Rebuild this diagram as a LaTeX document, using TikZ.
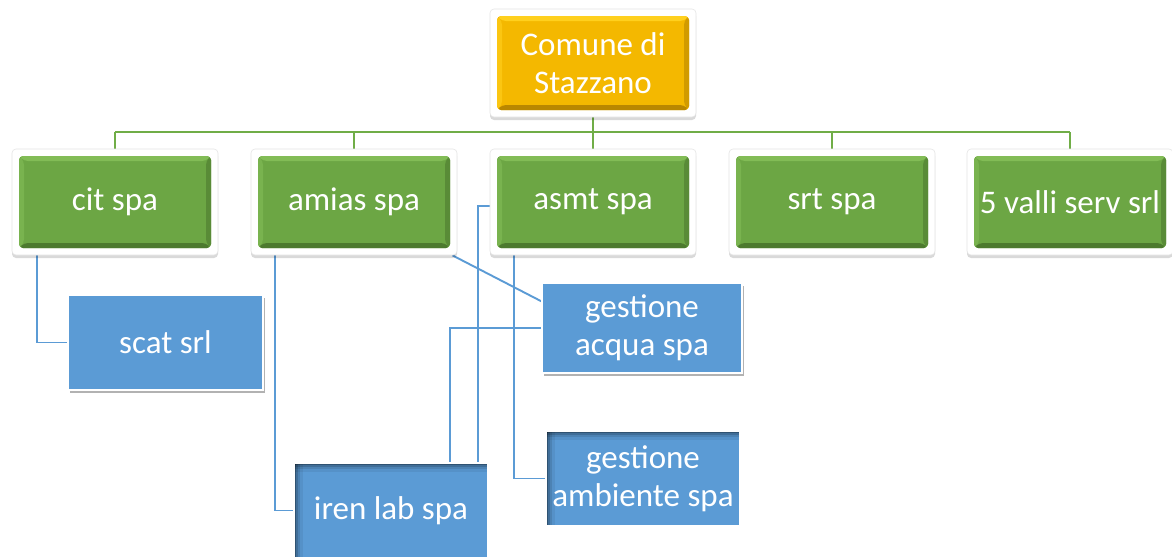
\documentclass[tikz,border=0pt]{standalone}
\usepackage{fontspec}
\setmainfont{Carlito}
\usetikzlibrary{shadows,backgrounds,calc}
\definecolor{gold}{RGB}{244,184,0}
\definecolor{goldlight}{RGB}{255,208,30}
\definecolor{golddark}{RGB}{185,135,0}
\definecolor{grn}{RGB}{108,166,68}
\definecolor{grnlight}{RGB}{130,188,86}
\definecolor{grndark}{RGB}{76,122,46}
\definecolor{blu}{RGB}{91,155,213}
\definecolor{busgreen}{RGB}{112,173,71}
\definecolor{linkblue}{RGB}{91,155,213}
\newcommand\lbl{\fontsize{33}{38}\selectfont}
\newcommand\bevelbox[3]{%
  \coordinate (bA) at ([shift={(7pt,7pt)}]path picture bounding box.south west);
  \coordinate (bC) at ([shift={(-7pt,-7pt)}]path picture bounding box.north east);
  \coordinate (bB) at (bC |- bA);
  \coordinate (bD) at (bA |- bC);
  \fill[#1] (bA) rectangle (bC);
  \fill[#2] (bD) -- (bC) -- ([shift={(-5pt,-5pt)}]bC) -- ([shift={(5pt,-5pt)}]bD) -- cycle;
  \fill[#2!60!#1] (bD) -- ([shift={(5pt,-5pt)}]bD) -- ([shift={(5pt,5pt)}]bA) -- (bA) -- cycle;
  \fill[#3] (bA) -- (bB) -- ([shift={(-5pt,5pt)}]bB) -- ([shift={(5pt,5pt)}]bA) -- cycle;
  \fill[#3!60!#1] (bB) -- (bC) -- ([shift={(-5pt,-5pt)}]bC) -- ([shift={(-5pt,5pt)}]bB) -- cycle;
}
\newcommand\innershadow{%
  \foreach \w/\o in {9/0.06,6/0.10,3.5/0.15,1.5/0.25}{%
    \fill[black,opacity=\o] (path picture bounding box.north west) rectangle ([yshift=-\w pt]path picture bounding box.north east);
    \fill[black,opacity=\o] (path picture bounding box.north west) rectangle ([xshift=\w pt]path picture bounding box.south west);
  }}
\begin{document}
\begin{tikzpicture}[x=1pt,y=-1pt,
  frame/.style={rectangle, rounded corners=4pt, fill=white, draw=black!10, line width=0.6pt, inner sep=0pt,
    minimum width=206pt, minimum height=106pt, text=white, font=\lbl, align=center,
    drop shadow={shadow xshift=0pt, shadow yshift=-3pt, opacity=0.15, fill=black}},
  goldbox/.style={frame, minimum height=108pt, path picture={\bevelbox{gold}{goldlight}{golddark}}},
  greenbox/.style={frame, path picture={\bevelbox{grn}{grnlight}{grndark}}},
  bluebox/.style={rectangle, fill=blu, draw=white, line width=1.5pt, inner sep=0pt,
    text=white, font=\lbl, align=center},
  outshadow/.style={drop shadow={shadow xshift=2pt, shadow yshift=-3pt, opacity=0.3, fill=black}},
  inshadow/.style={path picture={\innershadow}},
  busline/.style={draw=busgreen, line width=2.6pt},
  link/.style={draw=linkblue, line width=1.9pt}]
\useasboundingbox (0,0) rectangle (1172,557);

\node[goldbox] (top) at (593,63) {Comune di\\Stazzano};
\node[greenbox] (cit) at (115,202) {cit spa};
\node[greenbox] (amias) at (354,202) {amias spa};
\node[greenbox] (asmt) at (593,202) {asmt spa};
\node[greenbox] (srt) at (832,202) {srt spa};
\node[greenbox] (five) at (1070,202) {5 valli serv srl};

\node[bluebox, outshadow, minimum width=195pt, minimum height=95pt] (scat) at (165.5,342.5) {scat srl};
\node[bluebox, outshadow, minimum width=200pt, minimum height=90pt] (acqua) at (642,328) {gestione\\acqua spa};
\node[bluebox, inshadow, minimum width=194pt, minimum height=95pt] (ambiente) at (643,478.5) {gestione\\ambiente spa};
\node[bluebox, inshadow, minimum width=194pt, minimum height=95pt] (iren) at (391,510.5) {iren lab spa};

\begin{scope}[on background layer]
\fill[white] (0,0) rectangle (1172,557);
\coordinate (bus) at (593,132);
\draw[busline] (top.south) -- (bus);
\draw[busline] (bus -| cit.north) -- (bus -| five.north);
\foreach \n in {cit,amias,asmt,srt,five} \draw[busline] (bus -| \n.north) -- (\n.north);

\draw[link] ([xshift=25pt]cit.south west) |- (scat.west);
\draw[link] ([xshift=24pt]amias.south west) |- (iren.west);
\draw[link] ([xshift=-5pt]amias.south east) -- ([yshift=-19pt]acqua.north west);
\draw[link] ([xshift=24pt]asmt.south west) |- (acqua.west);
\draw[link] ([xshift=24pt]asmt.south west) |- (ambiente.west);
\draw[link] ([yshift=-4pt]asmt.west) -| ([xshift=-11pt]iren.north east);
\draw[link] (acqua.west) -| ([xshift=-39pt]iren.north east);
\end{scope}
\end{tikzpicture}
\end{document}
